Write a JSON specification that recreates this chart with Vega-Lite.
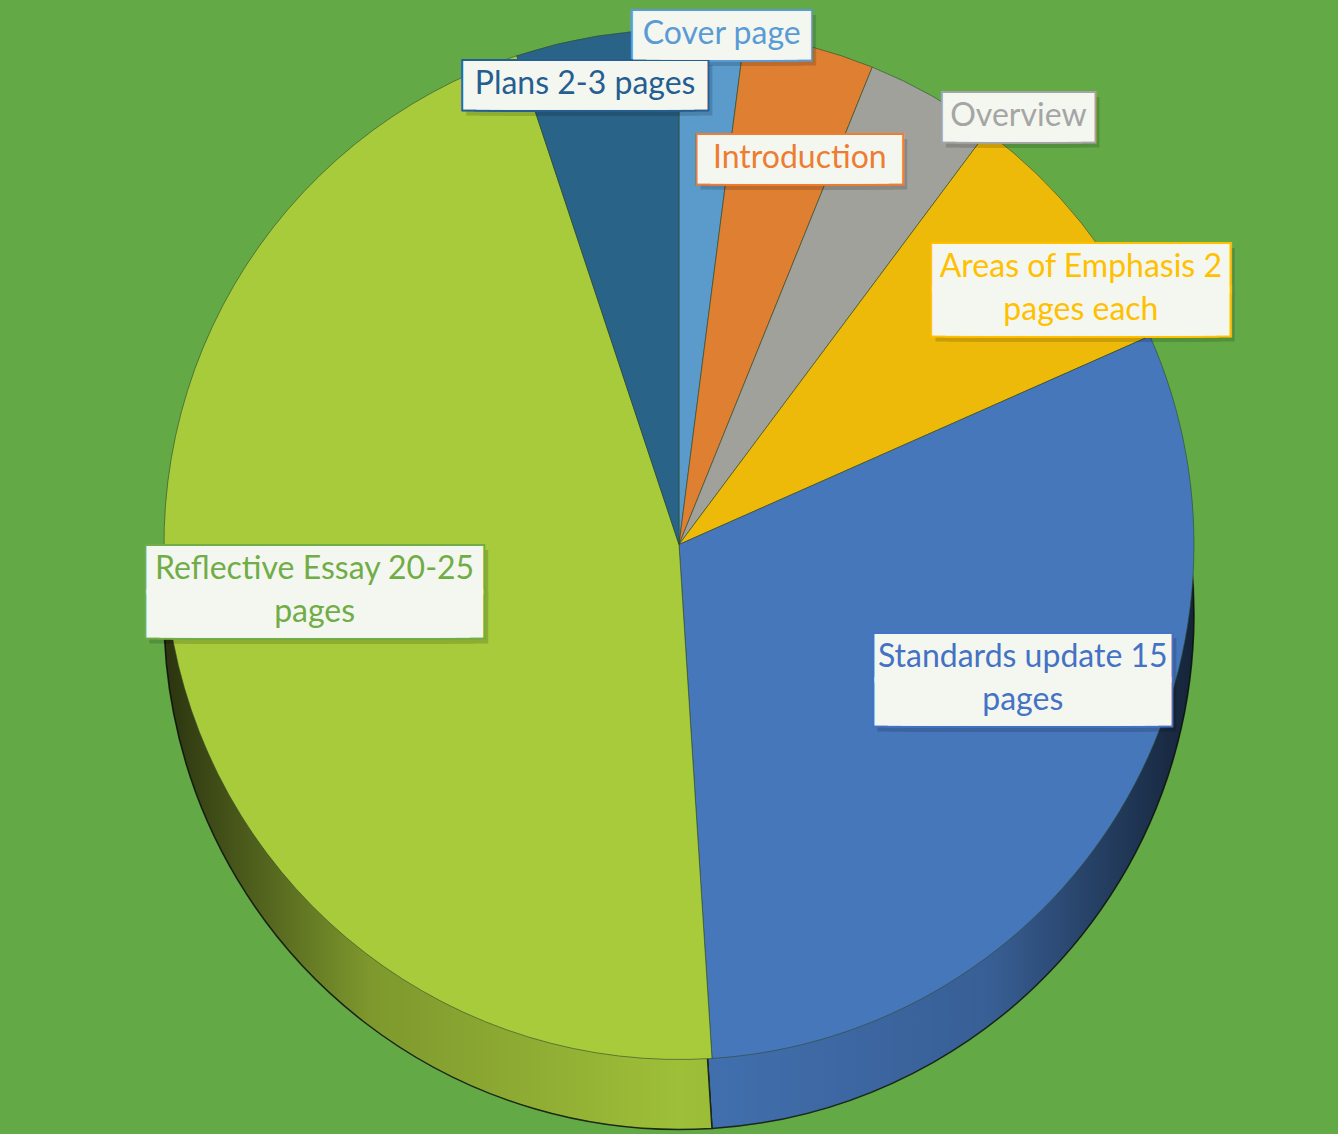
{
  "$schema": "https://vega.github.io/schema/vega-lite/v6.json",
  "width": 1318,
  "height": 1039,
  "autosize": {"type": "none"},
  "padding": {"left": 20, "right": 0, "top": 25, "bottom": 70},
  "background": "#63AA47",
  "config": {"view": {"stroke": null}},
  "data": {
    "values": [
      {"category": "Cover page", "label": "Cover page", "pages": 1, "idx": 1},
      {"category": "Introduction", "label": "Introduction", "pages": 2, "idx": 2},
      {"category": "Overview", "label": "Overview", "pages": 2, "idx": 3},
      {"category": "Areas of Emphasis 2 pages each", "label": "Areas of Emphasis 2\npages each", "pages": 4, "idx": 4},
      {"category": "Standards update 15 pages", "label": "Standards update 15\npages", "pages": 15, "idx": 5},
      {"category": "Reflective Essay 20-25 pages", "label": "Reflective Essay 20-25\npages", "pages": 22.5, "idx": 6},
      {"category": "Plans 2-3 pages", "label": "Plans 2-3 pages", "pages": 2.5, "idx": 7}
    ]
  },
  "encoding": {
    "theta": {"field": "pages", "type": "quantitative", "stack": true},
    "order": {"field": "idx", "type": "quantitative"}
  },
  "layer": [
    {
      "mark": {"type": "arc", "radius": 515, "yOffset": 70, "stroke": "#1c2a18", "strokeWidth": 1.5},
      "encoding": {
        "color": {
          "field": "category", "type": "nominal", "legend": null,
          "scale": {
            "domain": ["Cover page", "Introduction", "Overview", "Areas of Emphasis 2 pages each", "Standards update 15 pages", "Reflective Essay 20-25 pages", "Plans 2-3 pages"],
            "range": ["#5A9BCC", "#DE7F32", "#A0A19A", "#EEBA0A", "#4677BB", "#A8CB3C", "#2A6388"]
          }
        }
      }
    },
    {
      "data": {"values": [{"k": 1}]},
      "mark": {
        "type": "arc", "radius": 515, "yOffset": 70,
        "fill": {
          "gradient": "linear", "x1": 0, "y1": 0, "x2": 1, "y2": 0,
          "stops": [
            {"offset": 0, "color": "rgba(0,0,0,0.75)"},
            {"offset": 0.2, "color": "rgba(0,0,0,0.25)"},
            {"offset": 0.5, "color": "rgba(0,0,0,0.06)"},
            {"offset": 0.8, "color": "rgba(0,0,0,0.2)"},
            {"offset": 1, "color": "rgba(0,0,0,0.7)"}
          ]
        }
      },
      "encoding": {"theta": null, "order": null}
    },
    {
      "mark": {"type": "arc", "radius": 515, "stroke": "#2d4a2a", "strokeWidth": 1, "strokeOpacity": 0.6},
      "encoding": {
        "color": {"field": "category", "type": "nominal", "legend": null}
      }
    },
    {
      "mark": {
        "type": "text", "font": "DejaVu Sans Mono", "fontSize": 22, "lineHeight": 43,
        "align": "center", "baseline": "middle", "dx": 4, "strokeWidth": 47, "strokeJoin": "miter",
        "fill": "#000000", "stroke": "#000000", "opacity": 0.15,
        "dy": {"expr": "indexof(datum.label, '\\n') > 0 ? -12 : 9"},
        "text": {"expr": "indexof(datum.label, '\\n') > 0 ? [pad('', indexof(datum.label, '\\n'), '━'), pad('', indexof(datum.label, '\\n'), '━')] : pad('', length(datum.label), '━')"},
        "radius": {"expr": "datum.idx == 1 ? 514 : datum.idx == 2 ? 407 : datum.idx == 3 ? 548 : datum.idx == 4 ? 478 : datum.idx == 5 ? 368 : datum.idx == 6 ? 367 : 472"},
        "thetaOffset": {"expr": "datum.idx == 1 ? 0.019 : datum.idx == 2 ? 0.045 : datum.idx == 3 ? 0.155 : datum.idx == 4 ? 0.101 : datum.idx == 5 ? -0.18 : datum.idx == 6 ? 0.073 : -0.04"}
      },
      "encoding": {
        "detail": {"field": "category"}
      }
    },
    {
      "mark": {
        "type": "text", "font": "DejaVu Sans Mono", "fontSize": 22, "lineHeight": 43,
        "align": "center", "baseline": "middle", "strokeWidth": 49, "strokeJoin": "miter",
        "dy": {"expr": "indexof(datum.label, '\\n') > 0 ? -17 : 4"},
        "text": {"expr": "indexof(datum.label, '\\n') > 0 ? [pad('', indexof(datum.label, '\\n'), '━'), pad('', indexof(datum.label, '\\n'), '━')] : pad('', length(datum.label), '━')"},
        "radius": {"expr": "datum.idx == 1 ? 514 : datum.idx == 2 ? 407 : datum.idx == 3 ? 548 : datum.idx == 4 ? 478 : datum.idx == 5 ? 368 : datum.idx == 6 ? 367 : 472"},
        "thetaOffset": {"expr": "datum.idx == 1 ? 0.019 : datum.idx == 2 ? 0.045 : datum.idx == 3 ? 0.155 : datum.idx == 4 ? 0.101 : datum.idx == 5 ? -0.18 : datum.idx == 6 ? 0.073 : -0.04"}
      },
      "encoding": {
        "detail": {"field": "category"},
        "stroke": {
          "field": "category", "type": "nominal", "legend": null,
          "scale": {
            "domain": ["Cover page", "Introduction", "Overview", "Areas of Emphasis 2 pages each", "Standards update 15 pages", "Reflective Essay 20-25 pages", "Plans 2-3 pages"],
            "range": ["#5B9BD5", "#ED7D31", "#A5A5A5", "#FFC000", "#4472C4", "#70AD47", "#255E91"]
          }
        },
        "fill": {
          "field": "category", "type": "nominal", "legend": null,
          "scale": {
            "domain": ["Cover page", "Introduction", "Overview", "Areas of Emphasis 2 pages each", "Standards update 15 pages", "Reflective Essay 20-25 pages", "Plans 2-3 pages"],
            "range": ["#5B9BD5", "#ED7D31", "#A5A5A5", "#FFC000", "#4472C4", "#70AD47", "#255E91"]
          }
        }
      }
    },
    {
      "mark": {
        "type": "text", "font": "DejaVu Sans Mono", "fontSize": 22, "lineHeight": 43,
        "align": "center", "baseline": "middle", "strokeWidth": 45, "strokeJoin": "miter",
        "fill": "#F4F7F0", "stroke": "#F4F7F0",
        "dy": {"expr": "indexof(datum.label, '\\n') > 0 ? -17 : 4"},
        "text": {"expr": "indexof(datum.label, '\\n') > 0 ? [pad('', indexof(datum.label, '\\n'), '━'), pad('', indexof(datum.label, '\\n'), '━')] : pad('', length(datum.label), '━')"},
        "radius": {"expr": "datum.idx == 1 ? 514 : datum.idx == 2 ? 407 : datum.idx == 3 ? 548 : datum.idx == 4 ? 478 : datum.idx == 5 ? 368 : datum.idx == 6 ? 367 : 472"},
        "thetaOffset": {"expr": "datum.idx == 1 ? 0.019 : datum.idx == 2 ? 0.045 : datum.idx == 3 ? 0.155 : datum.idx == 4 ? 0.101 : datum.idx == 5 ? -0.18 : datum.idx == 6 ? 0.073 : -0.04"}
      },
      "encoding": {
        "detail": {"field": "category"}
      }
    },
    {
      "mark": {
        "type": "text", "font": "Lato", "fontSize": 32, "lineBreak": "\n", "lineHeight": 43,
        "align": "center", "baseline": "middle",
        "dy": {"expr": "indexof(datum.label, '\\n') > 0 ? -19 : 2"},
        "radius": {"expr": "datum.idx == 1 ? 514 : datum.idx == 2 ? 407 : datum.idx == 3 ? 548 : datum.idx == 4 ? 478 : datum.idx == 5 ? 368 : datum.idx == 6 ? 367 : 472"},
        "thetaOffset": {"expr": "datum.idx == 1 ? 0.019 : datum.idx == 2 ? 0.045 : datum.idx == 3 ? 0.155 : datum.idx == 4 ? 0.101 : datum.idx == 5 ? -0.18 : datum.idx == 6 ? 0.073 : -0.04"}
      },
      "encoding": {
        "text": {"field": "label"},
        "detail": {"field": "category"},
        "fill": {"field": "category", "type": "nominal", "legend": null}
      }
    }
  ]
}
